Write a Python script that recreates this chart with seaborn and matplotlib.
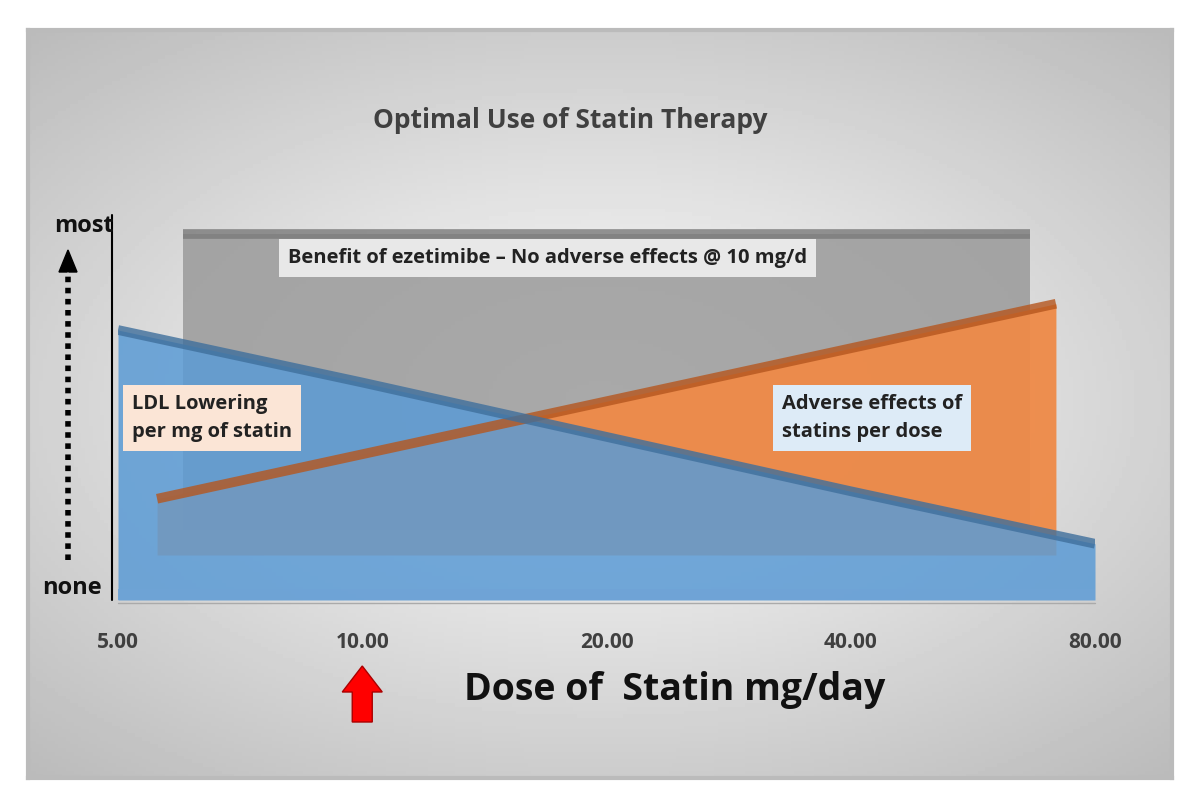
import numpy as np
import matplotlib
matplotlib.use("Agg")
import matplotlib.pyplot as plt
import seaborn as sns
from matplotlib.transforms import Affine2D
from matplotlib.patches import FancyArrow

sns.set_theme(style="white")
plt.rcParams['font.family'] = ['Open Sans', 'DejaVu Sans']

doses = ["5.00", "10.00", "20.00", "40.00", "80.00"]
pos = [0, 1, 2, 3, 4]
ldl = [72, 58, 43.5, 29, 15]        # LDL lowering per mg (front series)
adverse = [15, 28, 41, 54, 67]      # adverse effects per dose
ezetimibe = [79, 79, 79, 79, 79]    # benefit of ezetimibe (flat)

W, H = 1200, 808
fig = plt.figure(figsize=(W / 100, H / 100), dpi=100)
fig.patch.set_facecolor("white")

# gradient background panel
bg = fig.add_axes([28 / W, 30 / H, 1144 / W, 748 / H])
xx = np.linspace(-1, 1, 300)
yy = np.linspace(-1, 1, 200)
X, Y = np.meshgrid(xx, yy)
R = np.sqrt(X ** 2 * 0.8 + Y ** 2)
bg.imshow(1 - 0.2 * R, cmap="gray", vmin=0, vmax=1, aspect="auto",
          extent=[0, 1, 0, 1])
bg.set_xticks([]); bg.set_yticks([])
for s in bg.spines.values():
    s.set_color("#bbbbbb"); s.set_linewidth(3)

ax = fig.add_axes([118 / W, (H - 600) / H, 977 / W, 375 / H])
ax.set_xlim(0, 4)
ax.set_ylim(0, 100)
ax.patch.set_alpha(0)
ax.axis("off")
fig.canvas.draw()

cx = ax.transData.transform((2, 0))[0]

def depth(scale, dy):
    return ax.transData + Affine2D().translate(-cx, 0).scale(scale, 1).translate(cx, dy)

series = [
    (ezetimibe, "#9a9a9a", "#7a7a7a", depth(0.866, 70), 0.85),
    (adverse, "#ef8a47", "#b5561e", depth(0.92, 45), 0.95),
    (ldl, "#5b9bd5", "#3f6f9c", depth(1.0, 0), 0.85),
]
for vals, c, edge, tr, a in series:
    ax.fill_between(pos, 0, vals, color=c, alpha=a, lw=0, transform=tr)
    ln = sns.lineplot(x=pos, y=vals, ax=ax, color=edge, lw=7, alpha=0.8,
                      transform=tr, legend=False)
    ln.lines[-1].set_solid_capstyle("butt")

# floor slab
ax.fill_between(pos, 0, 3, color="#6fa3d6", alpha=0.9, lw=0, transform=depth(1.0, 0))

# labels
box = dict(boxstyle="square,pad=0.45", lw=0)
fig.text(288 / W, 1 - 258 / H, "Benefit of ezetimibe \u2013 No adverse effects @ 10 mg/d",
         fontsize=14.5, fontweight="bold", color="#222222", va="center",
         bbox=dict(box, fc="#e8e8e8"))
fig.text(132 / W, 1 - 418 / H, "LDL Lowering\nper mg of statin", fontsize=14.5,
         fontweight="bold", color="#222222", va="center", linespacing=1.5,
         bbox=dict(box, fc="#fbe5d6"))
fig.text(782 / W, 1 - 418 / H, "Adverse effects of\nstatins per dose", fontsize=14.5,
         fontweight="bold", color="#222222", va="center", linespacing=1.5,
         bbox=dict(box, fc="#ddebf7"))

fig.text(570 / W, 1 - 120 / H, "Optimal Use of Statin Therapy", fontsize=19,
         fontweight="bold", color="#404040", ha="center", va="center")
for p, lab in zip(pos, doses):
    xd = ax.transData.transform((p, 0))[0]
    fig.text(xd / W, 1 - 642 / H, lab, fontsize=15, fontweight="bold",
             color="#404040", ha="center", va="center")
fig.text(675 / W, 1 - 690 / H, "Dose of  Statin mg/day", fontsize=27,
         fontweight="bold", color="#111111", ha="center", va="center")

# y axis
fig.add_artist(plt.Line2D([112 / W, 112 / W], [1 - 215 / H, 1 - 600 / H],
                          color="black", lw=1.5))
fig.add_artist(plt.Line2D([118 / W, 1095 / W], [1 - 603 / H, 1 - 603 / H],
                          color="#aaaaaa", lw=1))
fig.text(84 / W, 1 - 226 / H, "most", fontsize=17, fontweight="bold",
         ha="center", va="center", color="#111111")
fig.text(72 / W, 1 - 588 / H, "none", fontsize=17, fontweight="bold",
         ha="center", va="center", color="#111111")
fig.add_artist(plt.Line2D([68 / W, 68 / W], [1 - 560 / H, 1 - 270 / H],
                          color="black", lw=4, ls=(0, (1, 1))))
fig.add_artist(FancyArrow(68 / W, 1 - 272 / H, 0, 1e-9, width=0, head_width=18 / W,
                          head_length=22 / H, color="black", transform=fig.transFigure,
                          length_includes_head=False))

# red arrow under 10 mg
x10 = ax.transData.transform((1, 0))[0]
fig.add_artist(FancyArrow(x10 / W, 1 - 722 / H, 0, 30 / H, width=20 / W,
                          head_width=40 / W, head_length=26 / H, fc="#ff0000",
                          ec="#aa0000", transform=fig.transFigure))

fig.savefig("out.png", dpi=100)
